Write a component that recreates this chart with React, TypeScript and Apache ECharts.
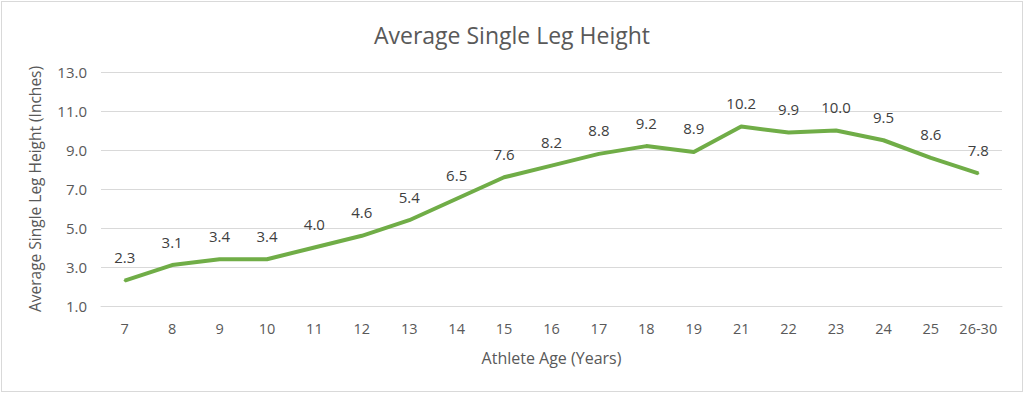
import React, { useEffect, useRef } from "react";
import * as echarts from "echarts";

const categories = ["7", "8", "9", "10", "11", "12", "13", "14", "15", "16", "17", "18", "19", "21", "22", "23", "24", "25", "26-30"];
const values = [2.3, 3.1, 3.4, 3.4, 4.0, 4.6, 5.4, 6.5, 7.6, 8.2, 8.8, 9.2, 8.9, 10.2, 9.9, 10.0, 9.5, 8.6, 7.8];
const title = "Average Single Leg Height";
const yName = "Average Single Leg Height (Inches)";
const xName = "Athlete Age (Years)";

export default function App() {
  const ref = useRef<HTMLDivElement>(null);
  useEffect(() => {
    if (!ref.current) return;
    const chart = echarts.init(ref.current, undefined, { renderer: "svg" });
    const font = "'Open Sans', 'Noto Sans', sans-serif";
    chart.setOption({
      animation: false,
      textStyle: { fontFamily: font },
      title: {
        text: title,
        left: "center",
        top: 16,
        textStyle: { fontSize: 23, fontWeight: "normal", color: "#595959", fontFamily: font },
      },
      grid: { left: 99, right: 20, top: 70, bottom: 85, containLabel: false },
      xAxis: {
        type: "category",
        data: categories,
        boundaryGap: true,
        name: xName,
        nameLocation: "middle",
        nameGap: 44,
        nameTextStyle: { fontSize: 16, color: "#595959", fontFamily: font },
        axisLine: { show: true, lineStyle: { color: "#d9d9d9", width: 1 } },
        axisTick: { show: false },
        axisLabel: { color: "#595959", fontSize: 14.5, margin: 15, interval: 0, fontFamily: font },
      },
      yAxis: {
        type: "value",
        min: 1,
        max: 13,
        interval: 2,
        name: yName,
        nameLocation: "middle",
        nameGap: 58,
        nameTextStyle: { fontSize: 15.5, color: "#595959", fontFamily: font },
        axisLine: { show: false },
        axisTick: { show: false },
        axisLabel: { color: "#595959", fontSize: 15, margin: 14, fontFamily: font, formatter: (v: number) => v.toFixed(1) },
        splitLine: { lineStyle: { color: "#d9d9d9", width: 1 } },
      },
      series: [
        {
          type: "line",
          data: values,
          symbol: "circle",
          symbolSize: 2,
          showSymbol: true,
          showAllSymbol: true,
          lineStyle: { color: "#70AD47", width: 4, join: "round" },
          itemStyle: { color: "#70AD47", borderWidth: 0 },
          labelLayout: { hideOverlap: false },
          label: {
            show: true,
            position: "top",
            distance: 15,
            color: "#404040",
            fontSize: 15,
            fontFamily: font,
            formatter: (p: any) => Number(p.value).toFixed(1),
          },
        },
      ],
    });
    return () => chart.dispose();
  }, []);
  return (
    <div style={{ position: "absolute", left: 0, top: 0, width: 1024, height: 394, background: "#fff" }}>
      <div
        style={{
          position: "absolute",
          left: 1,
          top: 1,
          width: 1020,
          height: 389,
          border: "1px solid #d9d9d9",
        }}
      >
        <div ref={ref} style={{ width: 1020, height: 389 }} />
      </div>
    </div>
  );
}
